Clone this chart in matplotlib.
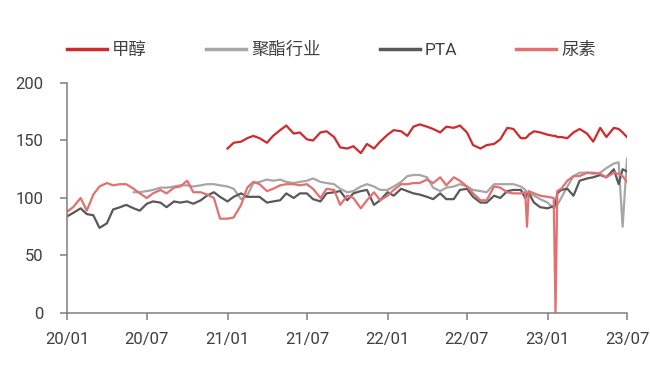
import numpy as np
import pandas as pd
import matplotlib
matplotlib.use("Agg")
from matplotlib import pyplot as plt

plt.rcParams["font.family"] = ["Roboto", "Noto Sans CJK SC", "DejaVu Sans"]

nan = np.nan

# semi-monthly grid plus a few extra weeks around the spikes
extra_dates = ["2022-11-11", "2022-11-19", "2023-01-19", "2023-01-23",
               "2023-06-12", "2023-06-21", "2023-07-01"]
dates = pd.date_range("2020-01-01", "2023-06-01", freq="SMS").union(
    pd.to_datetime(extra_dates))

methanol = (
    [nan] * 24  # 2020
    + [143, 148, 149, 152, 154, 152, 148, 154, 159, 163, 156, 157,
       151, 150, 157, 158, 153, 144, 143, 145, 139, 147, 143, 149]  # 2021
    + [155, 159, 158, 154, 162, 164, 162, 160, 157, 162, 161, 163,
       157, 146, 143, 146, 147, 151, 161, 160, 152, 152, 153, 155, 158, 157]  # 2022
    + [155, 154, 154, 153, 153, 152, 157, 160, 156, 149, 161, 153,
       161, 160, 157, 153]  # 2023
)

polyester = (
    [nan] * 10
    + [105, 105, 106, 107, 109, 109, 110, 111, 111, 110, 111, 112, 112, 111]  # 2020
    + [110, 108, 99, 102, 113, 114, 116, 115, 116, 114, 113, 114,
       115, 117, 114, 113, 112, 108, 105, 106, 110, 112, 110, 107]  # 2021
    + [107, 110, 114, 119, 120, 120, 118, 109, 106, 109, 110, 112,
       110, 107, 106, 105, 112, 112, 112, 112, 110, 107, 105, 104, 102, 99]  # 2022
    + [96, 91, 92, 94, 100, 110, 119, 122, 122, 121, 122, 126,
       130, 131, 75, 134]  # 2023
)

pta = (
    [84, 87, 91, 86, 85, 74, 78, 90, 92, 94, 91, 89,
     95, 97, 96, 92, 97, 96, 97, 95, 98, 102, 105, 101]  # 2020
    + [97, 101, 104, 101, 101, 101, 96, 97, 98, 104, 100, 104,
       104, 99, 97, 104, 105, 106, 98, 104, 106, 107, 94, 98]  # 2021
    + [105, 102, 108, 106, 104, 103, 101, 99, 104, 99, 99, 107,
       108, 101, 96, 96, 102, 100, 106, 107, 107, 100, 103, 104, 96, 92]  # 2022
    + [91, 93, 94, 104, 107, 108, 102, 115, 117, 118, 120, 118,
       125, 112, 125, 123]  # 2023
)

urea = (
    [88, 92, 100, 89, 103, 110, 113, 111, 112, 112, 108, 104,
     100, 104, 107, 104, 109, 110, 115, 105, 105, 103, 100, 82]  # 2020
    + [82, 83, 94, 109, 114, 112, 106, 108, 111, 112, 112, 111,
       112, 108, 100, 108, 107, 94, 102, 100, 91, 98, 105, 98]  # 2021
    + [102, 107, 112, 112, 113, 113, 116, 113, 118, 111, 118, 115,
       110, 104, 98, 98, 110, 109, 105, 104, 104, 105, 75, 106, 104, 102]  # 2022
    + [101, 100, 0, 106, 108, 115, 119, 119, 122, 122, 121, 118,
       122, 121, 119, 114]  # 2023
)

labels = ["甲醇", "聚酯行业", "PTA", "尿素"]
colors = ["#D02A2C", "#A6A6A6", "#595959", "#E46F6F"]
series = [methanol, polyester, pta, urea]

tick_dates = pd.to_datetime(["2020-01-01", "2020-07-01", "2021-01-01", "2021-07-01",
                             "2022-01-01", "2022-07-01", "2023-01-01", "2023-07-01"])
tick_labels = ["20/01", "20/07", "21/01", "21/07", "22/01", "22/07", "23/01", "23/07"]

fig = plt.figure(figsize=(6.5, 3.73), dpi=100)
ax = fig.add_axes([0.1031, 0.1609, 0.8615, 0.6166])

for vals, lab, col in zip(series, labels, colors):
    ax.plot(dates, vals, color=col, lw=1.6, label=lab)

ax.set_xlim(tick_dates[0], tick_dates[-1])
ax.set_ylim(0, 200)
ax.set_yticks([0, 50, 100, 150, 200])
ax.set_xticks(tick_dates)
ax.set_xticklabels(tick_labels)

for s in ["top", "right"]:
    ax.spines[s].set_visible(False)
for s in ["left", "bottom"]:
    ax.spines[s].set_color("#7F7F7F")
    ax.spines[s].set_linewidth(1.1)

ax.tick_params(axis="y", length=5, width=1.1, color="#7F7F7F", pad=12,
               labelsize=12, labelcolor="#404040")
ax.tick_params(axis="x", length=5, width=1.1, color="#7F7F7F", pad=9,
               labelsize=12, labelcolor="#404040")

leg = fig.legend(loc="center left", bbox_to_anchor=(0.1031, 1 - 50 / 373), ncol=4,
                 frameon=False, fontsize=12.5, handlelength=2.3, handletextpad=0.3,
                 columnspacing=3.4, borderpad=0, borderaxespad=0)
for line in leg.get_lines():
    line.set_linewidth(2.5)
for t in leg.get_texts():
    t.set_color("#404040")

fig.savefig("out.png", dpi=100)
